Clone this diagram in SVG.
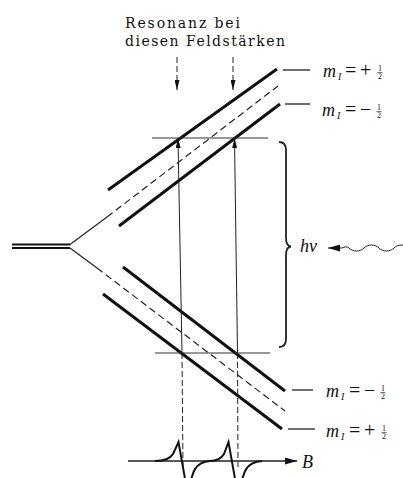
<svg xmlns="http://www.w3.org/2000/svg" width="403" height="478" viewBox="0 0 403 478">
<style>
.thick{stroke:#111;stroke-width:3;fill:none}
.thin{stroke:#222;stroke-width:1;fill:none}
.hline{stroke:#333;stroke-width:1.1;fill:none}
.dash{stroke:#222;stroke-width:1.2;fill:none;stroke-dasharray:7 4}
.vdash{stroke:#222;stroke-width:1;fill:none;stroke-dasharray:6 3}
.sig{stroke:#111;stroke-width:2;fill:none}
.serif{font-family:"Liberation Serif","Times New Roman",serif;fill:#111}
.title{font-family:"DejaVu Serif","Liberation Serif",serif;font-size:14px;fill:#111}
.it{font-style:italic}
.frac{font-family:"Liberation Serif","Times New Roman",serif;font-size:8px;fill:#111;text-anchor:middle}
</style>
<defs>
<marker id="ah" viewBox="0 0 10 6" refX="10" refY="3" markerWidth="10" markerHeight="5" orient="auto" markerUnits="userSpaceOnUse" preserveAspectRatio="none"><path d="M0,0 L10,3 L0,6 z" fill="#111"/></marker>
<marker id="ahB" viewBox="0 0 12 7" refX="12" refY="3.5" markerWidth="12" markerHeight="7" orient="auto" markerUnits="userSpaceOnUse"><path d="M0,0 L12,3.5 L0,7 z" fill="#111"/></marker>
</defs>

<g id="title">
<text class="title" x="125" y="28" textLength="115" lengthAdjust="spacing">Resonanz bei</text>
<text class="title" x="125" y="46" textLength="160" lengthAdjust="spacing">diesen Feldstärken</text>
</g>

<g id="levels">
<g id="zero-field">
<line class="thick" x1="12" y1="244.5" x2="70" y2="244.5" style="stroke-width:2.2"/>
<line class="thick" x1="12" y1="248" x2="70" y2="248" style="stroke-width:2.2"/>
</g>
<g id="upper-center">
<line class="thin" x1="70" y1="244.5" x2="107" y2="217" style="stroke-width:1.2"/>
<line class="dash" x1="107" y1="217" x2="278" y2="86"/>
</g>
<g id="lower-center">
<line class="thin" x1="70" y1="248" x2="97" y2="268" style="stroke-width:1.2"/>
<line class="dash" x1="97" y1="268" x2="285" y2="411"/>
</g>
<g id="level-upper-plus">
<line class="thick" x1="108" y1="190" x2="277" y2="69"/>
<line class="thin" x1="283" y1="70" x2="310" y2="70" style="stroke-width:1.3"/>
<text class="serif it" x="323" y="77" font-size="18">m</text>
<text class="serif it" x="338" y="80" font-size="10">I</text>
<text class="serif" x="345" y="77" font-size="20">=</text>
<text class="serif" x="360" y="77" font-size="20">+</text>
<text class="frac" x="380" y="71">1</text>
<line class="thin" x1="377.5" y1="72.5" x2="382.5" y2="72.5" style="stroke-width:0.6"/>
<text class="frac" x="380" y="79">2</text>
</g>
<g id="level-upper-minus">
<line class="thick" x1="119" y1="226" x2="280" y2="104"/>
<line class="thin" x1="285" y1="104" x2="310" y2="104" style="stroke-width:1.3"/>
<text class="serif it" x="322" y="116" font-size="18">m</text>
<text class="serif it" x="337" y="119" font-size="10">I</text>
<text class="serif" x="345" y="116" font-size="20">=</text>
<text class="serif" x="360" y="116" font-size="20">−</text>
<text class="frac" x="379" y="110">1</text>
<line class="thin" x1="376.5" y1="111.5" x2="381.5" y2="111.5" style="stroke-width:0.6"/>
<text class="frac" x="379" y="118">2</text>
</g>
<g id="level-lower-minus">
<line class="thick" x1="123" y1="267" x2="285" y2="391"/>
<line class="thin" x1="292" y1="390" x2="313" y2="390" style="stroke-width:1.3"/>
<text class="serif it" x="326" y="397" font-size="18">m</text>
<text class="serif it" x="341" y="400" font-size="10">I</text>
<text class="serif" x="349" y="397" font-size="20">=</text>
<text class="serif" x="364" y="397" font-size="20">−</text>
<text class="frac" x="383" y="391">1</text>
<line class="thin" x1="380.5" y1="392.5" x2="385.5" y2="392.5" style="stroke-width:0.6"/>
<text class="frac" x="383" y="399">2</text>
</g>
<g id="level-lower-plus">
<line class="thick" x1="103" y1="294" x2="282" y2="429"/>
<line class="thin" x1="288" y1="429" x2="315" y2="429" style="stroke-width:1.3"/>
<text class="serif it" x="326" y="437" font-size="18">m</text>
<text class="serif it" x="341" y="440" font-size="10">I</text>
<text class="serif" x="349" y="437" font-size="20">=</text>
<text class="serif" x="364" y="437" font-size="20">+</text>
<text class="frac" x="384" y="431">1</text>
<line class="thin" x1="381.5" y1="432.5" x2="386.5" y2="432.5" style="stroke-width:0.6"/>
<text class="frac" x="384" y="439">2</text>
</g>
</g>

<g id="bracket">
<path class="thin" d="M279,142 Q286,142 286,150 L286,238 Q286,246 291,246.5 Q286,247 286,255 L286,339 Q286,347 279,347" style="stroke-width:1.8"/>
<text class="serif it" x="300" y="252" font-size="18">hν</text>
</g>

<g id="connectors">
<line class="hline" x1="152" y1="138" x2="268" y2="138"/>
<line class="hline" x1="155" y1="353" x2="270" y2="353"/>
<line class="vdash" x1="177" y1="57" x2="177" y2="90" marker-end="url(#ah)"/>
<line class="vdash" x1="233" y1="57" x2="233" y2="90" marker-end="url(#ah)"/>
<line class="thin" x1="182" y1="353" x2="178" y2="138" marker-end="url(#ah)"/>
<line class="thin" x1="237.5" y1="353" x2="234.5" y2="138" marker-end="url(#ah)"/>
<line class="vdash" x1="182" y1="353" x2="183" y2="470"/>
<line class="vdash" x1="237.5" y1="353" x2="238" y2="470"/>
<path class="thin" d="M408,248 C404,244 398,244 394,248 C390,252 383,252 379,248 C375,244 368,244 364,248 C360,252 353,252 349,248 C347,246.5 345,246.5 342,248 L328,248" marker-end="url(#ahB)" style="stroke-width:1"/>
</g>

<g id="spectrum">
<line class="thin" x1="128" y1="461" x2="297" y2="461" marker-end="url(#ahB)" style="stroke-width:1.6"/>
<path class="sig" d="M155,461 C165,461 170,459 173,454 L178.5,442 L187,490"/>
<path class="sig" d="M189,490 C192,472 195,462 210,461"/>
<path class="sig" d="M210,461 C217,461 221,459 224,454 L228.5,442 L237,490"/>
<path class="sig" d="M240,490 C243,472 246,462 262,461"/>
<text class="serif it" x="302" y="468" font-size="18">B</text>
</g>
</svg>
